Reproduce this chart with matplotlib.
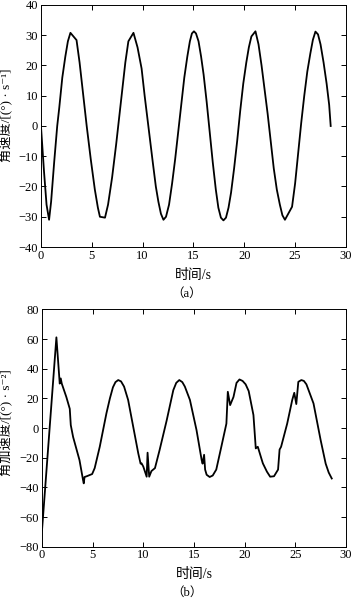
import matplotlib
matplotlib.use('Agg')
import matplotlib.pyplot as plt

FONTS = ['Liberation Serif', 'Noto Sans CJK SC', 'DejaVu Serif']
plt.rcParams['font.family'] = FONTS
plt.rcParams['axes.unicode_minus'] = True

# (a) angular velocity
t_vel = [0, 0.3, 0.55, 0.8, 1.0, 1.3, 1.6, 1.8, 2.1, 2.4, 2.65, 2.9, 3.5, 3.8,
         4.1, 4.5, 4.9, 5.3, 5.6, 5.8, 6.3, 6.6, 7.0, 7.4, 7.7, 8.0, 8.3, 8.6,
         9.1, 9.5, 9.9, 10.2, 10.6, 11.0, 11.3, 11.55, 11.8, 12.05, 12.3, 12.6,
         12.9, 13.2, 13.5, 13.8, 14.1, 14.4, 14.65, 14.85, 15.05, 15.25, 15.5,
         15.75, 16.0, 16.3, 16.6, 16.9, 17.2, 17.45, 17.7, 17.95, 18.2, 18.45,
         18.7, 19.0, 19.3, 19.6, 19.9, 20.2, 20.45, 20.7, 21.1, 21.4, 21.7, 22.0,
         22.3, 22.6, 22.9, 23.2, 23.5, 23.75, 24.0, 24.7, 25.0, 25.3, 25.6, 25.9,
         26.2, 26.5, 26.75, 27.0, 27.25, 27.5, 27.8, 28.1, 28.35, 28.5]
vel = [0, -15, -26, -31, -25, -12, 0, 6, 16, 23, 28, 30.8, 28.4, 21,
       12, 0, -11, -21, -27, -30, -30.3, -26, -17, -6, 3, 12, 21, 28,
       30.8, 26, 19, 10, -1, -12, -20, -25, -29, -31, -30, -26,
       -19, -11, -2, 7, 16, 23, 28, 30.6, 31.3, 30.6, 28,
       23, 17, 8, -2, -12, -21, -27, -30.3, -31.2, -30.3, -27,
       -22, -14, -5, 5, 14, 21, 26, 29.6, 31.3, 27, 20, 12,
       4, -5, -14, -21, -26, -29.5, -31, -26.7, -19, -9, 1, 10,
       18, 24, 28.5, 31.2, 30.3, 27, 21, 14, 7, 0]

# (b) angular acceleration
t_acc = [0, 1.42, 1.75, 1.85, 1.95, 2.4, 2.74, 2.84, 3.07, 3.7, 4.05, 4.12, 4.2,
         4.45, 4.95, 5.2, 5.7, 6.36, 6.7, 7.0, 7.25, 7.52, 7.8, 8.1, 8.5, 9.0,
         9.5, 9.73, 9.83, 10.0, 10.33, 10.42, 10.58, 10.8, 11.15, 11.6, 12.3,
         12.96, 13.25, 13.55, 13.85, 14.1, 14.6, 15.25, 15.76, 15.85, 16.0, 16.1,
         16.25, 16.55, 16.85, 17.2, 17.7, 18.2, 18.34, 18.57, 18.9, 19.2, 19.49,
         19.8, 20.1, 20.4, 20.87, 21.1, 21.3, 21.7, 21.8, 22.2, 22.52, 22.9,
         23.3, 23.45, 23.6, 24.2, 24.7, 24.9, 25.1, 25.3, 25.6, 25.85, 26.1,
         26.8, 27.5, 28.0, 28.3, 28.6]
acc = [-69, 61.2, 30, 33.5, 30, 21, 13, 2, -6, -21.6, -35, -37.3, -33,
       -32.4, -31, -27, -12.6, 10, 20, 27.5, 31, 32.4, 31.5, 28, 19, 1,
       -17, -24, -23.8, -26, -32.8, -16.6, -32.8, -29, -27, -15, 5,
       25.6, 30.5, 32.4, 31, 28, 19, -1.3, -21.6, -24, -18, -28,
       -31.5, -33, -32, -28, -12.6, 3, 24.5, 15.5, 21, 30.5, 32.8,
       31.8, 29.5, 25, 8.8, -13.7, -12.6, -21.6, -23.8, -29.4, -32.8, -32.5,
       -28, -14.5, -12.6, 3, 19, 23.8, 16.2, 31.2, 32.4, 31.8, 29.5,
       16.6, -8, -24, -30, -34]

fig = plt.figure(figsize=(3.53, 6.02), dpi=100)
ax1 = fig.add_axes([0.116, 0.5897, 0.864, 0.402])
ax2 = fig.add_axes([0.119, 0.0919, 0.861, 0.394])

ax1.plot(t_vel, vel, color='black', linewidth=1.3)
ax2.plot(t_acc, acc, color='black', linewidth=1.3)

for ax in (ax1, ax2):
    ax.set_xlim(0, 30)
    ax.set_xticks(range(0, 31, 5))
    ax.tick_params(direction='in', top=True, right=True, length=3.5,
                   width=0.7, labelsize=9, pad=2)
    for s in ax.spines.values():
        s.set_linewidth(0.7)
    ax.set_xlabel('时间/s', fontsize=10, labelpad=5)

ax1.set_ylim(-40, 40)
ax1.set_yticks(range(-40, 41, 10))
ax1.set_ylabel('角速度/[(°) · s⁻¹]', fontsize=9.5)
ax1.yaxis.set_label_coords(-0.09, 0.545)
ax2.set_ylim(-80, 80)
ax2.set_yticks(range(-80, 81, 20))
ax2.set_ylabel('角加速度/[(°) · s⁻²]', fontsize=9.5)
ax2.yaxis.set_label_coords(-0.094, 0.525)

fig.text(0.53, 0.512, '（a）', ha='center', va='center', fontsize=9)
fig.text(0.53, 0.015, '（b）', ha='center', va='center', fontsize=9)

fig.savefig('out.png', dpi=100)
